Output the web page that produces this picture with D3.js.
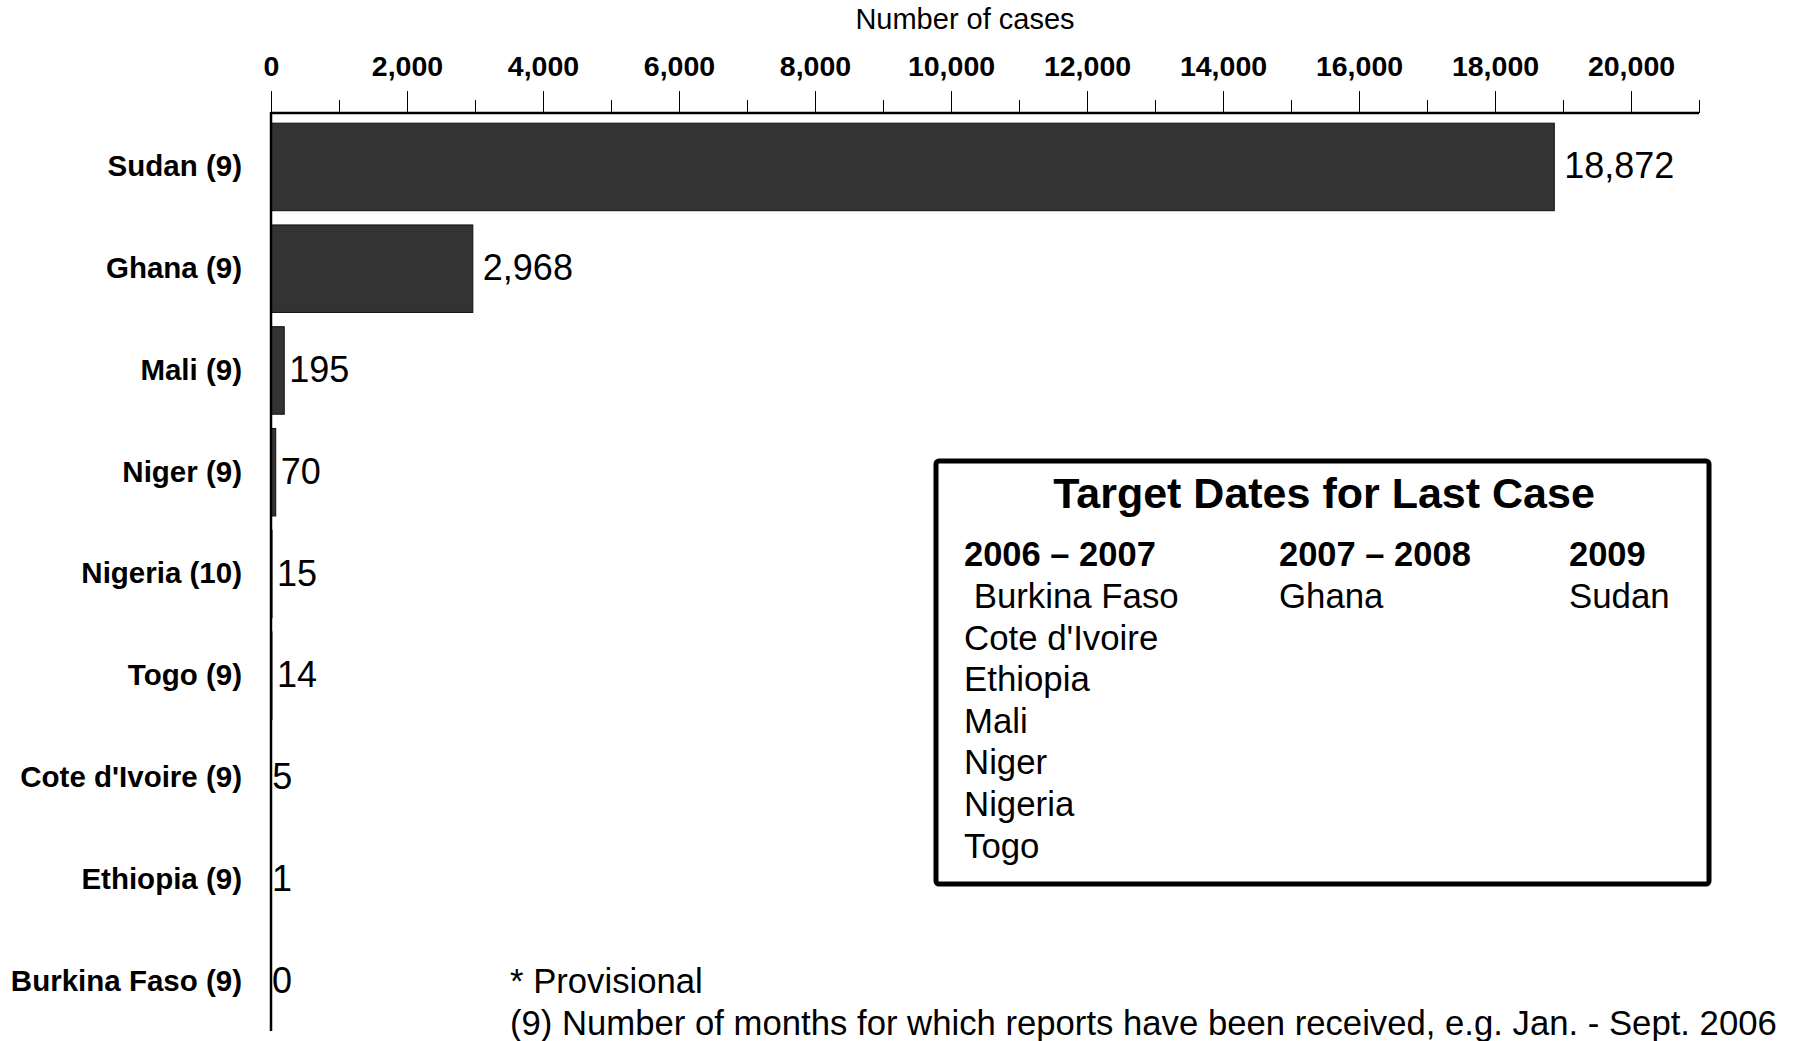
<!DOCTYPE html>
<html>
<head>
<meta charset="utf-8">
<script src="https://cdn.jsdelivr.net/npm/d3@7"></script>
<style>
  body { margin: 0; background: #fff; }
  text { font-family: "Liberation Sans", Arial, sans-serif; }
</style>
</head>
<body>
<div id="graph"></div>
<script>
// data
var countries = ["Sudan (9)", "Ghana (9)", "Mali (9)", "Niger (9)", "Nigeria (10)", "Togo (9)", "Cote d'Ivoire (9)", "Ethiopia (9)", "Burkina Faso (9)"];
var cases = [18872, 2968, 195, 70, 15, 14, 5, 1, 0];
var majorTicks = [0, 2000, 4000, 6000, 8000, 10000, 12000, 14000, 16000, 18000, 20000];
var minorTicks = [1000, 3000, 5000, 7000, 9000, 11000, 13000, 15000, 17000, 19000, 21000];

var legendTitle = "Target Dates for Last Case";
var legendHeads = ["2006 \u2013 2007", "2007 \u2013 2008", "2009"];
var legendCol1 = [" Burkina Faso", "Cote d'Ivoire", "Ethiopia", "Mali", "Niger", "Nigeria", "Togo"];
var legendCol2 = ["Ghana"];
var legendCol3 = ["Sudan"];
var footnotes = ["* Provisional", "(9) Number of months for which reports have been received, e.g. Jan. - Sept. 2006"];

var W = 1801, H = 1041;
var svg = d3.select("#graph").append("svg")
    .attr("width", W)
    .attr("height", H);

var x = d3.scaleLinear().domain([0, 21000]).range([271, 1699]);
var y = d3.scaleBand().domain(countries).range([113, 1035]).paddingInner(0.14).paddingOuter(0.1);

// minor ticks
svg.append("g")
    .attr("transform", "translate(0,113)")
    .call(d3.axisTop(x).tickValues(minorTicks).tickSize(13).tickSizeOuter(0).tickFormat(""))
    .call(function(g) { g.select(".domain").remove(); });

// major ticks + labels
var xAxis = svg.append("g")
    .attr("transform", "translate(0,113)")
    .call(d3.axisTop(x).tickValues(majorTicks).tickSize(22).tickSizeOuter(0).tickPadding(15)
        .tickFormat(d3.format(",")));
xAxis.select(".domain").remove();
xAxis.selectAll("text")
    .style("font-size", "28.5px")
    .style("font-weight", "bold")
    .attr("fill", "#000");
xAxis.selectAll("line").attr("stroke", "#000");

// axis lines
svg.append("line")
    .attr("x1", x(0)).attr("x2", x(21000))
    .attr("y1", 113).attr("y2", 113)
    .attr("stroke", "#000").attr("stroke-width", 2.5);

svg.append("text")
    .attr("x", 965).attr("y", 29)
    .style("text-anchor", "middle")
    .style("font-size", "29px")
    .text("Number of cases");

// bars
svg.selectAll(".bar")
    .data(cases)
    .enter().append("rect")
    .attr("class", "bar")
    .attr("x", x(0))
    .attr("y", function(d, i) { return y(countries[i]); })
    .attr("width", function(d) { return x(d) - x(0); })
    .attr("height", y.bandwidth())
    .attr("fill", "#333333")
    .attr("stroke", "#111")
    .attr("stroke-width", function(d) { return d > 0 ? 1 : 0; });

// value labels
svg.selectAll(".val")
    .data(cases)
    .enter().append("text")
    .attr("class", "val")
    .attr("x", function(d) { return x(d) + (d > 1000 ? 10 : d >= 14 ? 5 : 1); })
    .attr("y", function(d, i) { return y(countries[i]) + y.bandwidth() / 2; })
    .attr("dy", "0.32em")
    .style("font-size", "36px")
    .text(function(d) { return d3.format(",")(d); });

// y axis
var yAxis = svg.append("g")
    .attr("transform", "translate(" + x(0) + ",0)")
    .call(d3.axisLeft(y).tickSize(0).tickPadding(29));
yAxis.select(".domain").remove();
yAxis.selectAll("text")
    .style("font-size", "29.5px")
    .style("font-weight", "bold")
    .attr("fill", "#000");

svg.append("line")
    .attr("x1", x(0)).attr("x2", x(0))
    .attr("y1", 112).attr("y2", 1031)
    .attr("stroke", "#000").attr("stroke-width", 2.5);

// legend box
var lg = svg.append("g");
lg.append("rect")
    .attr("x", 936).attr("y", 461)
    .attr("width", 773).attr("height", 423)
    .attr("rx", 3)
    .attr("fill", "#fff")
    .attr("stroke", "#000")
    .attr("stroke-width", 5);

lg.append("text")
    .attr("x", 1324).attr("y", 508)
    .style("text-anchor", "middle")
    .style("font-size", "43px")
    .style("font-weight", "bold")
    .text(legendTitle);

var colX = [964, 1279, 1569];
lg.selectAll(".head")
    .data(legendHeads)
    .enter().append("text")
    .attr("x", function(d, i) { return colX[i]; })
    .attr("y", 566)
    .style("font-size", "34.5px")
    .style("font-weight", "bold")
    .text(function(d) { return d; });

[legendCol1, legendCol2, legendCol3].forEach(function(col, c) {
    lg.selectAll(".item" + c)
        .data(col)
        .enter().append("text")
        .attr("x", colX[c])
        .attr("y", function(d, i) { return 608 + i * 41.6; })
        .style("font-size", "34.8px")
        .style("white-space", "pre")
        .attr("xml:space", "preserve")
        .text(function(d) { return d; });
});

// footnotes
svg.selectAll(".foot")
    .data(footnotes)
    .enter().append("text")
    .attr("x", 510)
    .attr("y", function(d, i) { return 993 + i * 41.5; })
    .style("font-size", "34.7px")
    .text(function(d) { return d; });
</script>
</body>
</html>
